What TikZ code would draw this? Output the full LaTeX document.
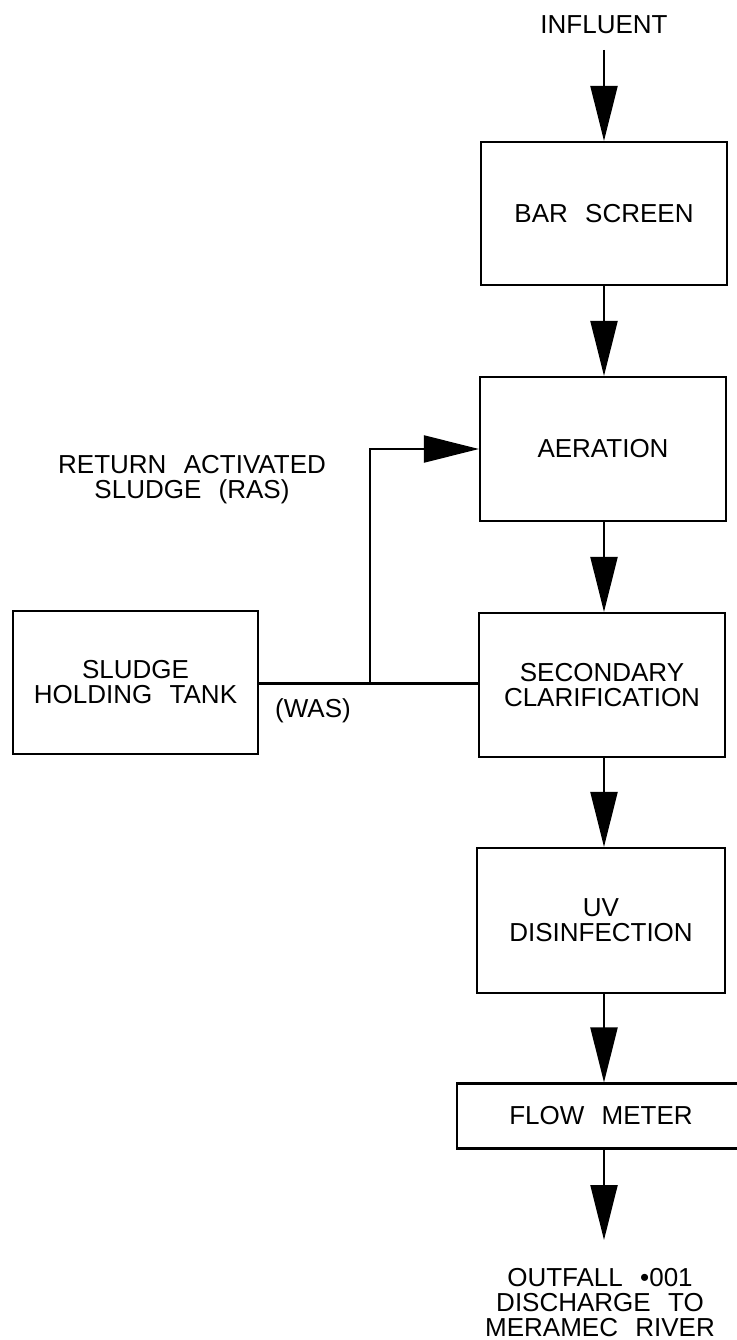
\documentclass[tikz,border=0pt]{standalone}
\usepackage{fontspec}
\setmainfont{Liberation Sans}[WordSpace=2.4]
\usetikzlibrary{arrows.meta,calc}
\begin{document}
\begin{tikzpicture}[x=1pt,y=-1pt,
  line width=2.2pt,
  lbl/.style={font=\fontsize{26}{25}\selectfont, align=center, inner sep=0pt},
  procbox/.style={draw, lbl, minimum width=#1, line join=miter},
  flow/.style={-{Triangle[length=55pt,width=27pt]}}
]
\useasboundingbox (0,0) rectangle (736,1340);

\node[lbl] (infl) at (604,25) {INFLUENT};
\coordinate (inflend) at (604,50);

\node[procbox=246pt, minimum height=143pt] (bar) at (604,213.5) {BAR SCREEN};
\node[procbox=246pt, minimum height=144pt] (aer) at (603,449) {AERATION};
\node[procbox=246pt, minimum height=144pt] (sec) at (602,685) {SECONDARY\\CLARIFICATION};
\node[procbox=248pt, minimum height=145pt] (uv) at (601,920.5) {UV\\DISINFECTION};
\node[procbox=288pt, minimum height=65pt] (fm) at (601,1116) {FLOW METER};
\node[procbox=245pt, minimum height=143pt] (sht) at (135.5,682.5) {SLUDGE\\HOLDING TANK};

\node[lbl] (ras) at (192,480) {RETURN ACTIVATED\\SLUDGE (RAS)};
\node[lbl] (was) at (313,711) {(WAS)};
\node[lbl] (outf) at (600,1303) {OUTFALL •001\\DISCHARGE TO\\MERAMEC RIVER};
\coordinate (outend) at (604,1240);

% main flow
\draw[flow] (inflend) -- (inflend |- bar.north);
\draw[flow] (bar.south -| inflend) -- (inflend |- aer.north);
\draw[flow] (aer.south -| inflend) -- (inflend |- sec.north);
\draw[flow] (sec.south -| inflend) -- (inflend |- uv.north);
\draw[flow] (uv.south -| inflend) -- (inflend |- fm.north);
\draw[flow] (fm.south -| inflend) -- (outend);

% WAS / RAS
\coordinate (j) at (370,683.5);
\draw (sht.east |- j) -- (j) -- (sec.west |- j);
\draw[flow] (j) |- (aer.west);
\end{tikzpicture}
\end{document}
